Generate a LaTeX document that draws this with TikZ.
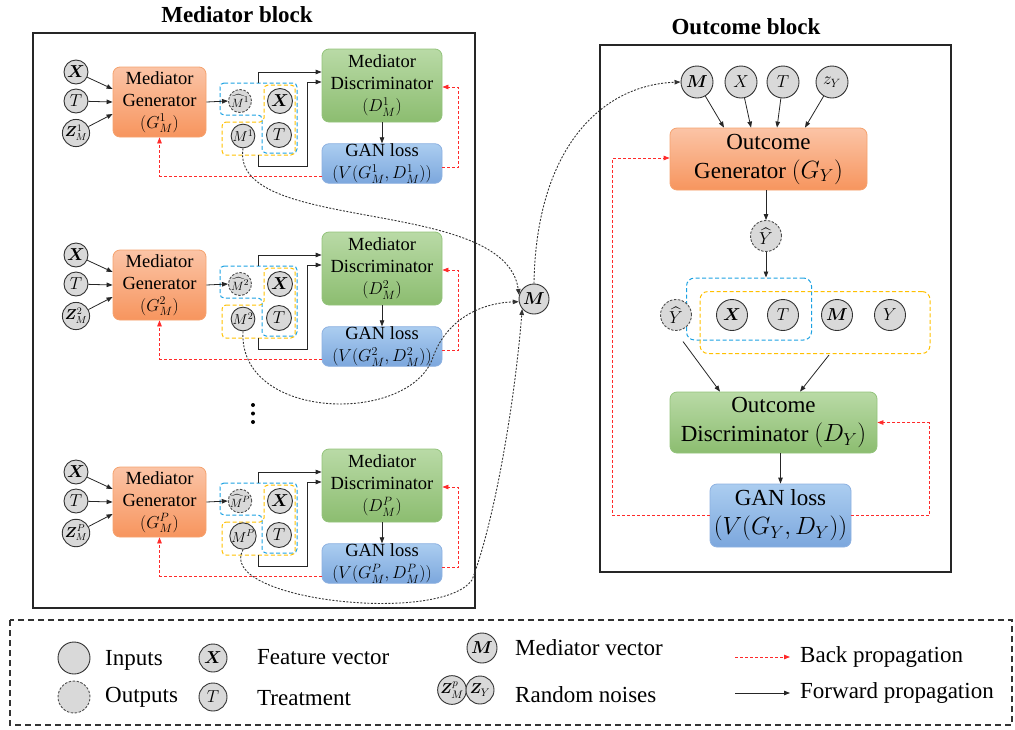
\documentclass[tikz,border=0pt]{standalone}
\usepackage{fontspec}
\setmainfont{Liberation Serif}
\usepackage{amsmath,bm}
\usetikzlibrary{arrows.meta,calc}
\definecolor{genT}{HTML}{FBC4A6}
\definecolor{genB}{HTML}{F7955E}
\definecolor{genD}{HTML}{F5A26E}
\definecolor{disT}{HTML}{B9DAA6}
\definecolor{disB}{HTML}{8CBD70}
\definecolor{disD}{HTML}{93C37B}
\definecolor{ganT}{HTML}{ABCDF0}
\definecolor{ganB}{HTML}{7CA7DD}
\definecolor{ganD}{HTML}{8DB1E1}
\definecolor{cblue}{HTML}{1BA1E2}
\definecolor{cyell}{HTML}{FFC000}
\definecolor{cred}{HTML}{FF2A2A}
\definecolor{cfill}{HTML}{D9D9D9}
\tikzset{
  box/.style={rounded corners=7pt, align=center, inner sep=0pt, line width=0.8pt},
  genbox/.style={box, top color=genT, bottom color=genB, draw=genD},
  disbox/.style={box, top color=disT, bottom color=disB, draw=disD},
  ganbox/.style={box, top color=ganT, bottom color=ganB, draw=ganD},
  medfont/.style={font=\fontsize{18.5}{22}\selectfont},
  outfont/.style={font=\fontsize{23}{29}\selectfont},
  cin/.style={circle, draw=black!80, fill=cfill, line width=0.9pt, minimum size=24pt, inner sep=0pt, font=\fontsize{16}{16}\selectfont},
  cout/.style={cin, draw=black!70, dash pattern=on 2.5pt off 1.5pt},
  fwd/.style={draw=black!85, line width=0.8pt, -{Triangle[length=6pt,width=4.5pt]}},
  back/.style={draw=cred, line width=0.8pt, dash pattern=on 3pt off 2pt, -{Triangle[length=6pt,width=4.5pt]}},
  mlink/.style={draw=black!80, line width=0.9pt, dash pattern=on 2pt off 1.5pt, -{Triangle[length=6pt,width=4.5pt]}},
  bluedash/.style={draw=cblue, line width=1pt, dash pattern=on 4pt off 2.5pt, rounded corners=4pt},
  yelldash/.style={draw=cyell, line width=1pt, dash pattern=on 4pt off 2.5pt, rounded corners=4pt},
  lbl/.style={anchor=west, inner sep=0pt, font=\fontsize{23}{23}\selectfont},
}
\begin{document}
\begin{tikzpicture}[x=1pt,y=-1pt]
\useasboundingbox (0,0) rectangle (1015,729);
% titles and frames
\node[font=\fontsize{23}{23}\selectfont\bfseries] (t1) at (237,15) {Mediator block};
\node[font=\fontsize{23}{23}\selectfont\bfseries] (t2) at (746,27) {Outcome block};
\draw[line width=1.5pt, black!85] (33,33) rectangle (475,608);
\draw[line width=1.5pt, black!85] (600,45) rectangle (951,572);

% mediator rows
\foreach \dy/\s/\r in {0/1/a,183/2/b,400/P/c}{
  \node[cin] (x\r) at (76,{72+\dy}) {$\bm{X}$};
  \node[cin] (t\r) at (76,{101+\dy}) {$T$};
  \node[cin, font=\fontsize{14}{14}\selectfont] (z\r) at (76,{133+\dy}) {$\bm{Z}_M^{\s}$};
  \node[genbox, medfont, minimum width=93pt, minimum height=70pt] (gen\r) at (159.5,{102+\dy}) {Mediator\\Generator\\$(G_M^{\s})$};
  \draw[fwd] (x\r) -- ($(gen\r.west)+(0,-13)$);
  \draw[fwd] (t\r) -- (gen\r.west);
  \draw[fwd] (z\r) -- ($(gen\r.west)+(0,12)$);
  % dashed groups
  \draw[bluedash] (220,{83+\dy}) -- (297,{83+\dy}) -- (297,{153+\dy}) -- (262,{153+\dy}) -- (262,{115+\dy}) -- (220,{115+\dy}) -- cycle;
  \draw[yelldash] (222,{122+\dy}) -- (264,{122+\dy}) -- (264,{85+\dy}) -- (295,{85+\dy}) -- (295,{155+\dy}) -- (222,{155+\dy}) -- cycle;
  \node[cout, minimum size=23pt, font=\fontsize{13}{13}\selectfont] (mh\r) at (240,{101+\dy}) {$\widehat{M}^{\s}$};
  \node[cin, minimum size=23pt, font=\fontsize{14}{14}\selectfont] (m\r) at (243,{136+\dy}) {$M^{\s}$};
  \node[cin, minimum size=25pt] (xx\r) at (280,{101+\dy}) {$\bm{X}$};
  \node[cin, minimum size=25pt] (tt\r) at (279,{135+\dy}) {$T$};
  \draw[fwd] (gen\r.east) -- (mh\r.west);
  \node[disbox, medfont, minimum width=120pt, minimum height=73pt] (disc\r) at (382,{85.5+\dy}) {Mediator\\Discriminator\\$(D_M^{\s})$};
  \node[ganbox, medfont, minimum width=120pt, minimum height=39pt] (gan\r) at (382,{163.5+\dy}) {GAN loss\\$(V(G_M^{\s},D_M^{\s}))$};
  \coordinate (bt\r) at (258,{83+\dy});
  \coordinate (yb\r) at (258,{155+\dy});
  \draw[fwd] (bt\r) |- ($(disc\r.west)+(0,-13.5)$);
  \draw[fwd] (yb\r) -- ++(0,11) -| (307,{82+\dy}) -- ($(disc\r.west)+(0,-3.5)$);
  \draw[fwd] (disc\r.south) -- (gan\r.north);
  \draw[back] ($(gan\r.east)+(0,4)$) -- ++(16,0) |- ($(disc\r.east)+(0,1.5)$);
  \draw[back] ($(gan\r.west)+(0,12.5)$) -| (gen\r.south);
}
% vertical dots
\fill[black] (253,405) circle (2pt) (253,413.5) circle (2pt) (253,422) circle (2pt);

% central M
\node[cin, minimum size=30pt, font=\fontsize{18}{18}\selectfont] (Mc) at (534,299) {$\bm{M}$};
\draw[mlink] (ma.south) .. controls (230,235) and (505,195) .. (Mc.165);
\draw[mlink] (mb.south) .. controls (238,420) and (405,425) .. (432,360) .. controls (445,320) and (480,303) .. (Mc.190);
\draw[mlink] (mc.south) .. controls (215,600) and (440,625) .. (472,580) .. controls (495,520) and (515,400) .. (Mc.220);

% outcome block
\node[cin, minimum size=32pt, font=\fontsize{19}{19}\selectfont] (om) at (697,82) {$\bm{M}$};
\node[cin, minimum size=32pt, font=\fontsize{19}{19}\selectfont] (ox) at (741,82) {$X$};
\node[cin, minimum size=32pt, font=\fontsize{19}{19}\selectfont] (ot) at (783,82) {$T$};
\node[cin, minimum size=32pt, font=\fontsize{17}{17}\selectfont] (oz) at (832,82) {$z_Y$};
\draw[mlink] (Mc.north) .. controls (536,150) and (600,85) .. (om.west);
\node[genbox, outfont, minimum width=197pt, minimum height=62pt] (ogen) at (768.5,159) {Outcome\\Generator $(G_Y)$};
\draw[fwd] (om) -- ($(ogen.north)+(-44.5,0)$);
\draw[fwd] (ox) -- ($(ogen.north)+(-17.5,0)$);
\draw[fwd] (ot) -- ($(ogen.north)+(8.5,0)$);
\draw[fwd] (oz) -- ($(ogen.north)+(36.5,0)$);
\node[cout, minimum size=31pt, font=\fontsize{19}{19}\selectfont] (oyh) at (766,236) {$\widehat{Y}$};
\draw[fwd] (oyh.north |- ogen.south) -- (oyh.north);
\node[bluedash, minimum width=125pt, minimum height=62pt, rounded corners=8pt] (obl) at (749,309) {};
\node[yelldash, minimum width=230pt, minimum height=62pt, rounded corners=8pt] (oyl) at (815,322.5) {};
\draw[fwd] (oyh.south) -- (obl.north -| oyh);
\node[cout, minimum size=31pt, font=\fontsize{19}{19}\selectfont] (oyh2) at (676,315) {$\widehat{Y}$};
\node[cin, minimum size=31pt, font=\fontsize{19}{19}\selectfont] (ox2) at (732,315) {$\bm{X}$};
\node[cin, minimum size=31pt, font=\fontsize{19}{19}\selectfont] (ot2) at (783,315) {$T$};
\node[cin, minimum size=31pt, font=\fontsize{19}{19}\selectfont] (om2) at (837,315) {$\bm{M}$};
\node[cin, minimum size=31pt, font=\fontsize{19}{19}\selectfont] (oy2) at (890,315) {$Y$};
\node[disbox, outfont, minimum width=207pt, minimum height=61pt] (odisc) at (773.5,422.5) {Outcome\\Discriminator $(D_Y)$};
\node[ganbox, outfont, minimum width=141pt, minimum height=63pt] (ogan) at (780.5,515.5) {GAN loss\\$(V(G_Y,D_Y))$};
\draw[fwd] ($(obl.south)+(-66,1)$) -- ($(odisc.north)+(-53.5,0)$);
\draw[fwd] ($(oyl.south)+(14,1)$) -- ($(odisc.north)+(26.5,0)$);
\draw[fwd] (odisc.south -| ogan) -- (ogan.north);
\draw[back] (ogan.east) -- ++(78,0) |- (odisc.east);
\draw[back] (ogan.west) -- ++(-97,0) |- ($(ogen.west)+(0,-1)$);

% legend
\draw[black!80, line width=1.2pt, dash pattern=on 6pt off 4pt] (10,620) rectangle (1012,725);
\node[cin, minimum size=32pt] (li) at (74,658) {};
\node[lbl] (lit) at (105,660) {Inputs};
\node[cout, minimum size=32pt] (lo) at (74,697) {};
\node[lbl] (lot) at (105,697) {Outputs};
\node[cin, minimum size=28pt, font=\fontsize{17}{17}\selectfont] (lx) at (213,658) {$\bm{X}$};
\node[lbl] (lxt) at (257,657) {Feature vector};
\node[cin, minimum size=28pt, font=\fontsize{17}{17}\selectfont] (lt) at (213,697) {$T$};
\node[lbl] (ltt) at (257,698) {Treatment};
\node[cin, minimum size=30pt, font=\fontsize{17}{17}\selectfont] (lm) at (482,648) {$\bm{M}$};
\node[lbl] (lmt) at (515,648) {Mediator vector};
\node[cin, minimum size=28pt, font=\fontsize{15}{15}\selectfont] (lz1) at (452,690) {$\bm{Z}_M^{p}$};
\node[cin, minimum size=28pt, font=\fontsize{15}{15}\selectfont] (lz2) at (480,690) {$\bm{Z}_Y$};
\node[lbl] (lzt) at (515,695) {Random noises};
\coordinate (lb1) at (735,657);
\coordinate (lb2) at (790,657);
\draw[back] (lb1) -- (lb2);
\node[lbl] (lbt) at (800,657) {Back propagation};
\coordinate (lf1) at (735,693);
\coordinate (lf2) at (790,693);
\draw[fwd] (lf1) -- (lf2);
\node[lbl] (lft) at (800,693) {Forward propagation};
\end{tikzpicture}
\end{document}
